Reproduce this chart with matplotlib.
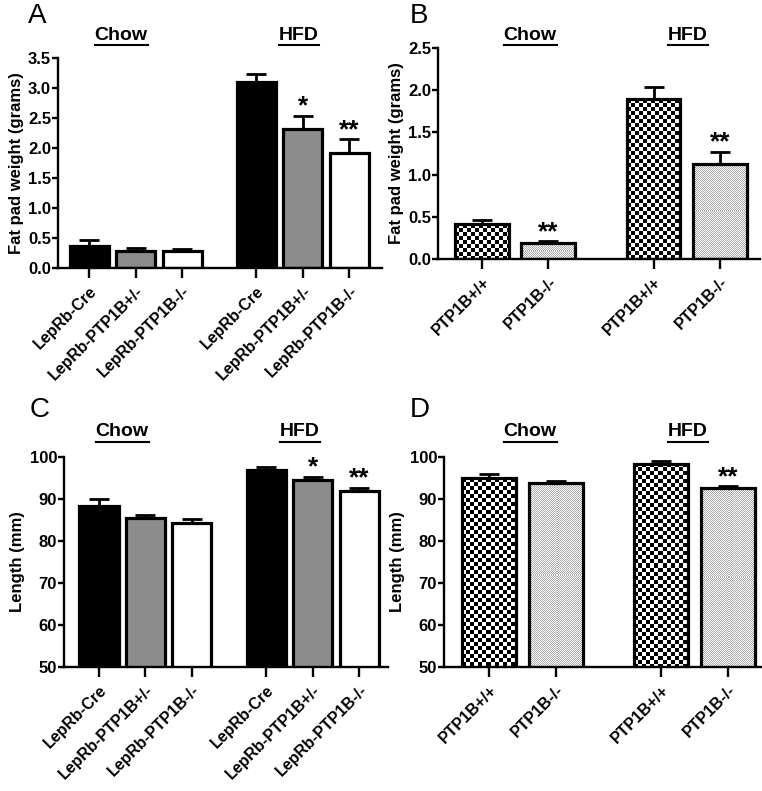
import numpy as np
import matplotlib
matplotlib.use("Agg")
import matplotlib.pyplot as plt
from matplotlib.lines import Line2D

plt.rcParams['font.family'] = ['Liberation Sans', 'DejaVu Sans']

# ---------------- data ----------------
groups = ["Chow", "HFD"]
lepr_labels = ["LepRb-Cre", "LepRb-PTP1B+/-", "LepRb-PTP1B-/-"]
ptp_labels = ["PTP1B+/+", "PTP1B-/-"]

# Panel A: fat pad weight (g), LepRb lines (Chow then HFD)
A_mean = [0.37, 0.28, 0.28, 3.10, 2.31, 1.92]
A_err = [0.09, 0.05, 0.03, 0.14, 0.23, 0.23]
A_stars = ["", "", "", "", "*", "**"]

# Panel B: fat pad weight (g), global PTP1B
B_mean = [0.41, 0.19, 1.89, 1.13]
B_err = [0.05, 0.02, 0.15, 0.14]
B_stars = ["", "**", "", "**"]

# Panel C: length (mm), LepRb lines
C_mean = [88.3, 85.5, 84.4, 96.8, 94.5, 91.8]
C_err = [1.8, 0.8, 0.8, 0.9, 0.8, 0.9]
C_stars = ["", "", "", "", "*", "**"]

# Panel D: length (mm), global PTP1B
D_mean = [94.9, 93.9, 98.4, 92.7]
D_err = [1.0, 0.5, 0.7, 0.4]
D_stars = ["", "", "", "**"]

W, H = 762, 791
DPI = 100
fig = plt.figure(figsize=(W / DPI, H / DPI), dpi=DPI)


def rect_px(left, right, top, bottom):
    return [left / W, 1 - bottom / H, (right - left) / W, (bottom - top) / H]


def texture(kind, nx, ny):
    j, i = np.meshgrid(np.arange(nx), np.arange(ny))
    if kind == "checker":
        c = 4
        arr = ((i // c + j // c) % 2).astype(float)  # 1 -> white, 0 -> black
        return arr
    else:
        arr = np.ones((ny, nx))
        dots = ((i % 2 == 0) & (j % 2 == 0)) | ((i % 2 == 1) & (j % 2 == 1))
        arr[dots] = 0.66
        return arr


def add_texture(ax, bar, kind, ylo):
    x0 = bar.get_x()
    w = bar.get_width()
    h = bar.get_height()
    pos = ax.get_position()
    xl = ax.get_xlim()
    yl = ax.get_ylim()
    ppx = pos.width * W / (xl[1] - xl[0])
    ppy = pos.height * H / (yl[1] - yl[0])
    nx = max(1, int(round(w * ppx)))
    ny = max(1, int(round((h - ylo) * ppy)))
    arr = texture(kind, nx, ny)
    im = ax.imshow(arr, cmap="gray", vmin=0, vmax=1, extent=[x0, x0 + w, ylo, h],
                   origin="upper", interpolation="nearest", aspect="auto", zorder=2)
    im.set_clip_path(bar)


def panel(rect, positions, means, errs, stars, labels, ylim, yticks, yfmt, ylabel,
          xlim, faces, bar_w, group_x, letter, letter_xy, title_y):
    ax = fig.add_axes(rect)
    ax.set_xlim(*xlim)
    ax.set_ylim(*ylim)
    plain = [f if f not in ("checker", "dots") else "white" for f in faces]
    bars = ax.bar(positions, means, width=bar_w, color=plain, edgecolor="none", zorder=1)
    for b, f in zip(bars, faces):
        if f in ("checker", "dots"):
            add_texture(ax, b, f, ylim[0])
    ax.errorbar(positions, means, yerr=[np.zeros(len(errs)), errs], fmt="none",
                ecolor="black", elinewidth=2.0, capsize=7.5, capthick=2.0, zorder=2.5)
    ax.bar(positions, means, width=bar_w, color="none", edgecolor="black",
           linewidth=2.3, zorder=3)
    for p, m, e, s in zip(positions, means, errs, stars):
        if s:
            ax.annotate(s, (p, m + e), xytext=(0, 1.5), textcoords="offset points",
                        ha="center", va="baseline", fontsize=19, fontweight="bold",
                        zorder=4)
    ax.set_xlim(*xlim)
    ax.set_ylim(*ylim)
    for sp in ("top", "right"):
        ax.spines[sp].set_visible(False)
    for sp in ("left", "bottom"):
        ax.spines[sp].set_linewidth(1.7)
    ax.set_yticks(yticks)
    ax.set_yticklabels([yfmt.format(t) for t in yticks], fontsize=12, fontweight="bold")
    ax.tick_params(axis="y", direction="out", length=4, width=1.7, pad=1)
    ax.set_xticks(positions)
    ax.set_xticklabels(labels, rotation=45, ha="right", rotation_mode="anchor",
                       fontsize=11.5, fontweight="bold")
    ax.tick_params(axis="x", direction="out", length=7, width=1.7, pad=4)
    ax.set_ylabel(ylabel, fontsize=12, fontweight="bold", labelpad=3)
    ax.text(*letter_xy, letter, transform=fig.transFigure, fontsize=20,
            ha="left", va="center")
    titles = []
    for g, gx in zip(groups, group_x):
        t = fig.text(gx / W, 1 - title_y / H, g, fontsize=14, fontweight="bold",
                     ha="center", va="center")
        titles.append(t)
    return ax, titles


posA = [0, 1, 2, 3.6, 4.6, 5.6]
posB = [0, 1, 2.58, 3.58]
facesL = ["black", "#8c8c8c", "white", "black", "#8c8c8c", "white"]
facesP = ["checker", "dots", "checker", "dots"]

all_titles = []
_, t = panel(rect_px(58, 382, 58, 268), posA, A_mean, A_err, A_stars, lepr_labels * 2,
             (0, 3.5), np.arange(0, 3.51, 0.5), "{:.1f}", "Fat pad weight (grams)",
             (-0.67, 6.30), facesL, 0.84, (121, 299), "A", (28 / W, 1 - 16 / H), 35)
all_titles += t
_, t = panel(rect_px(438, 760, 48, 259), posB, B_mean, B_err, B_stars, ptp_labels * 2,
             (0, 2.5), np.arange(0, 2.51, 0.5), "{:.1f}", "Fat pad weight (grams)",
             (-0.66, 4.18), facesP, 0.81, (530, 688), "B", (410 / W, 1 - 16 / H), 35)
all_titles += t
_, t = panel(rect_px(64, 388, 457, 667), posA, C_mean, C_err, C_stars, lepr_labels * 2,
             (50, 100), np.arange(50, 101, 10), "{:.0f}", "Length (mm)",
             (-0.753, 6.22), facesL, 0.84, (122, 300), "C", (30 / W, 1 - 410 / H), 432)
all_titles += t
_, t = panel(rect_px(444, 762, 457, 667), posB, D_mean, D_err, D_stars, ptp_labels * 2,
             (50, 100), np.arange(50, 101, 10), "{:.0f}", "Length (mm)",
             (-0.675, 4.09), facesP, 0.81, (530, 688), "D", (410 / W, 1 - 410 / H), 432)
all_titles += t

# underline group titles
fig.canvas.draw()
r = fig.canvas.get_renderer()
for t in all_titles:
    bb = t.get_window_extent(r)
    y = bb.y0 - 1
    fig.add_artist(Line2D([bb.x0 / W, bb.x1 / W], [y / H, y / H], color="black", lw=1.5))

fig.savefig("out.png", dpi=DPI)
